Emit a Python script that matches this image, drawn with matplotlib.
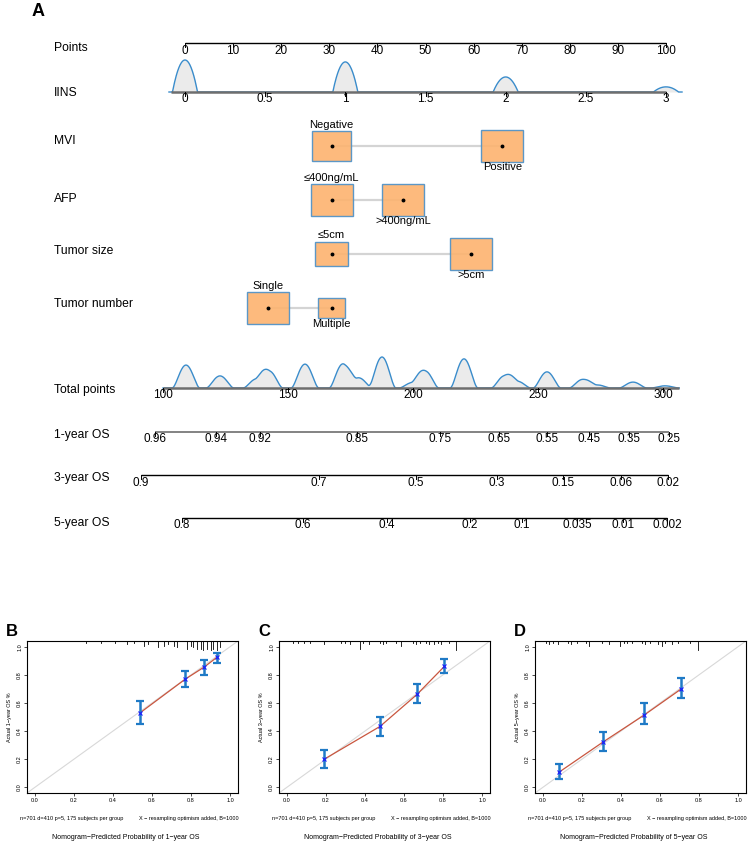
import numpy as np
import matplotlib.pyplot as plt
from matplotlib.patches import Rectangle

plt.rcParams['font.family'] = ['Liberation Sans', 'DejaVu Sans']

W, H = 755, 842
TOP = 620  # height of panel A in pixels

# ---------------- nomogram data ----------------
points_ticks = [0, 10, 20, 30, 40, 50, 60, 70, 80, 90, 100]

iins_ticks = [0, 0.5, 1, 1.5, 2, 2.5, 3]
iins_tick_labels = ['0', '0.5', '1', '1.5', '2', '2.5', '3']
iins_levels = [0, 1, 2, 3]
iins_density = [1.0, 0.94, 0.47, 0.16]

mvi_labels = ['Negative', 'Positive']
mvi_points = [30.5, 66.0]
mvi_freq = [0.46, 0.54]

afp_labels = ['≤400ng/mL', '>400ng/mL']
afp_points = [30.5, 45.4]
afp_freq = [0.5, 0.5]

size_labels = ['≤5cm', '>5cm']
size_points = [30.5, 59.5]
size_freq = [0.38, 0.62]

number_labels = ['Single', 'Multiple']
number_points = [17.2, 30.5]
number_freq = [0.70, 0.30]

total_ticks = [100, 150, 200, 250, 300]
total_modes = [109.2, 122.8, 137.6, 142.4, 156.8, 172.0, 178.2, 187.6,
               200.0, 204.8, 220.4, 236.8, 241.6, 253.6, 268.0, 273.6, 288.0, 300.8]
total_density = [0.74, 0.39, 0.30, 0.55, 0.77, 0.78, 0.33, 1.0,
                 0.18, 0.55, 0.94, 0.40, 0.22, 0.52, 0.28, 0.10, 0.19, 0.07]

os1_labels = ['0.96', '0.94', '0.92', '0.85', '0.75', '0.65', '0.55', '0.45', '0.35', '0.25']
os1_total = [96.8, 121.2, 138.8, 177.6, 210.8, 234.4, 253.6, 270.4, 286.4, 302.4]
os3_labels = ['0.9', '0.7', '0.5', '0.3', '0.15', '0.06', '0.02']
os3_total = [91.2, 162.4, 201.2, 233.6, 260.0, 283.2, 302.0]
os5_labels = ['0.8', '0.6', '0.4', '0.2', '0.1', '0.035', '0.01', '0.002']
os5_total = [107.6, 156.0, 189.6, 222.8, 243.6, 265.6, 284.0, 301.6]

# ---------------- calibration data ----------------
cal1_pred = [0.540, 0.770, 0.867, 0.932]
cal1_obs = [0.531, 0.769, 0.855, 0.924]
cal1_lo = [0.453, 0.711, 0.797, 0.885]
cal1_hi = [0.614, 0.827, 0.908, 0.958]
rug1_x = [0.26, 0.34, 0.41, 0.47, 0.51, 0.56, 0.58, 0.63, 0.66, 0.68, 0.71, 0.73,
          0.78, 0.80, 0.81, 0.83, 0.85, 0.86, 0.88, 0.90, 0.91, 0.93, 0.95]
rug1_n = [1, 1, 1, 2, 1, 3, 2, 4, 3, 2, 3, 4, 5, 3, 4, 5, 5, 6, 5, 6, 5, 6, 4]

cal3_pred = [0.190, 0.477, 0.666, 0.806]
cal3_obs = [0.199, 0.433, 0.660, 0.859]
cal3_lo = [0.136, 0.368, 0.597, 0.813]
cal3_hi = [0.265, 0.503, 0.733, 0.913]
rug3_x = [0.03, 0.056, 0.09, 0.12, 0.19, 0.275, 0.30, 0.325, 0.376, 0.39, 0.42, 0.477, 0.494,
          0.51, 0.56, 0.587, 0.646, 0.663, 0.68, 0.713, 0.73, 0.755, 0.772, 0.79, 0.83, 0.865]
rug3_n = [1, 1, 1, 1, 2, 1, 1, 2, 5, 1, 2, 1, 2, 1, 1, 3, 1, 2, 1, 1, 2, 2, 1, 2, 1, 6]

cal5_pred = [0.081, 0.309, 0.520, 0.709]
cal5_obs = [0.106, 0.323, 0.515, 0.700]
cal5_lo = [0.060, 0.261, 0.450, 0.635]
cal5_hi = [0.164, 0.393, 0.596, 0.776]
rug5_x = [0.017, 0.034, 0.05, 0.076, 0.127, 0.144, 0.177, 0.22, 0.236, 0.304, 0.338, 0.397,
          0.414, 0.431, 0.456, 0.507, 0.524, 0.549, 0.591, 0.608, 0.625, 0.659, 0.693, 0.752, 0.794]
rug5_n = [1, 2, 1, 2, 1, 2, 1, 1, 3, 1, 2, 3, 1, 1, 1, 1, 2, 1, 2, 3, 1, 2, 1, 1, 6]

BLUE = '#3a8ccb'
ORANGE = '#fdb36f'
GREY_FILL = '#ebebeb'
AXGREY = '#6e6e6e'

fig = plt.figure(figsize=(W / 100, H / 100), dpi=100)


def overlay(v0, px0, k):
    # axes over panel A whose x scale puts value v0 at pixel px0, k pixels per unit
    ax = fig.add_axes([0, 1 - TOP / H, 1, TOP / H])
    ax.set_xlim(v0 - px0 / k, v0 + (W - px0) / k)
    ax.set_ylim(TOP, 0)
    ax.axis('off')
    ax.patch.set_alpha(0)
    return ax


ax_p = overlay(0, 185, 481 / 100)      # points
ax_i = overlay(0, 185, 481 / 3)        # IINS
ax_t = overlay(100, 163, 2.5)          # total points


def axis_line(ax, y, ticks, labels, x0, x1, color, lw, fs=8.5):
    ax.plot([x0, x1], [y, y], color=color, lw=lw, solid_capstyle='butt', zorder=3)
    for t, l in zip(ticks, labels):
        ax.plot([t, t], [y, y + 4], color='black', lw=0.7, zorder=3)
        ax.text(t, y + 7.5, l, ha='center', va='center', fontsize=fs, zorder=4)


def density(ax, y, levels, heights, lo, hi, width, scale, power):
    x = np.linspace(lo, hi, 1200)
    d = np.zeros_like(x)
    for v, h in zip(levels, heights):
        d += h * np.clip(1 - ((x - v) / width) ** 2, 0, None) ** power
    ax.fill_between(x, y, y - d * scale, color=GREY_FILL, lw=0, zorder=1)
    ax.plot(x, y - d * scale, color=BLUE, lw=1.0, zorder=2)


def cat_row(ax, y, labels, pts, freq):
    fmax = max(freq)
    ax.plot([pts[0], pts[-1]], [y, y], color='#d4d4d4', lw=1.6, zorder=1)
    for i, (lab, p, f) in enumerate(zip(labels, pts, freq)):
        wpx = 42 * np.sqrt(f / fmax)
        hpx = wpx * 0.76
        wd = wpx / 4.81
        ax.add_patch(Rectangle((p - wd / 2, y - hpx / 2), wd, hpx, facecolor=ORANGE,
                               edgecolor='#4a90c8', lw=1.0, alpha=0.9, zorder=2))
        ax.plot(p, y, 'o', color='black', ms=1.8, zorder=3)
        if i == 0:
            ax.text(p, y - hpx / 2 - 6.5, lab, ha='center', va='center', fontsize=8)
        else:
            ax.text(p, y + hpx / 2 + 5.5, lab, ha='center', va='center', fontsize=8)


# Points
axis_line(ax_p, 43, points_ticks, [str(t) for t in points_ticks], 0, 100, 'black', 1.0)
# IINS
density(ax_i, 92, iins_levels, iins_density, -0.1, 3.1, 0.078, 32, 1)
axis_line(ax_i, 92, iins_ticks, iins_tick_labels, -0.09, 3.0, AXGREY, 1.8)
# categorical rows
cat_row(ax_p, 146, mvi_labels, mvi_points, mvi_freq)
cat_row(ax_p, 200, afp_labels, afp_points, afp_freq)
cat_row(ax_p, 254, size_labels, size_points, size_freq)
cat_row(ax_p, 308, number_labels, number_points, number_freq)
# Total points
density(ax_t, 388, total_modes, total_density, 100, 306.5, 5.6, 31, 2)
axis_line(ax_t, 388, total_ticks, [str(t) for t in total_ticks], 100, 306.5, AXGREY, 1.8)
# survival scales
axis_line(ax_t, 432, os1_total, os1_labels, os1_total[0], os1_total[-1], AXGREY, 1.2)
axis_line(ax_t, 475, os3_total, os3_labels, os3_total[0], os3_total[-1], 'black', 1.0)
axis_line(ax_t, 518, os5_total, os5_labels, os5_total[0], os5_total[-1], 'black', 1.0)

row_names = ['Points', 'IINS', 'MVI', 'AFP', 'Tumor size', 'Tumor number',
             'Total points', '1-year OS', '3-year OS', '5-year OS']
row_y = [48, 93, 141, 199, 251, 304, 390, 435, 478, 523]
for name, y in zip(row_names, row_y):
    fig.text(54 / W, 1 - y / H, name, ha='left', va='center', fontsize=8.7)

fig.text(38 / W, 1 - 12 / H, 'A', ha='center', va='center', fontsize=13, fontweight='bold')


# ---------------- calibration panels ----------------
def cal_panel(left, letter, years, pred, obs, lo, hi, rug_x, rug_n):
    ax = fig.add_axes([left / W, (H - 793) / H, 211 / W, 152 / H])
    ax.set_xlim(-0.04, 1.04)
    ax.set_ylim(-0.04, 1.04)
    ax.plot([-0.04, 1.04], [-0.04, 1.04], color='#d8d8d8', lw=0.8, zorder=1)
    ax.plot(pred, obs, color='#c9563f', lw=0.9, zorder=2)
    yerr = [np.array(obs) - np.array(lo), np.array(hi) - np.array(obs)]
    ax.errorbar(pred, obs, yerr=yerr, fmt='none', ecolor='#1f7ac6', elinewidth=1.8,
                capsize=2.6, capthick=1.6, zorder=3)
    ax.plot(pred, obs, 'x', color='#1a1aff', ms=2.6, mew=0.8, zorder=4)
    unit = 1.08 / 152
    for x, n in zip(rug_x, rug_n):
        ax.plot([x, x], [1.04, 1.04 - n * 1.5 * unit], color='black', lw=0.6, zorder=2)
    ticks = [0, 0.2, 0.4, 0.6, 0.8, 1.0]
    ax.set_xticks(ticks)
    ax.set_yticks(ticks)
    ax.set_xticklabels(['%.1f' % t for t in ticks])
    ax.set_yticklabels(['%.1f' % t for t in ticks], rotation=90, va='center')
    ax.tick_params(labelsize=4, length=2, width=0.5, pad=1.5)
    for s in ax.spines.values():
        s.set_linewidth(0.8)
    ax.text(-0.085, 0.5, 'Actual %d−year OS %%' % years, transform=ax.transAxes,
            rotation=90, ha='center', va='center', fontsize=4)
    ax.text(-0.033, -0.171, 'n=701 d=410 p=5, 175 subjects per group', transform=ax.transAxes,
            ha='left', va='center', fontsize=4)
    ax.text(1.005, -0.171, 'X − resampling optimism added, B=1000', transform=ax.transAxes,
            ha='right', va='center', fontsize=4)
    ax.text(0.47, -0.29, 'Nomogram−Predicted Probability of %d−year OS' % years,
            transform=ax.transAxes, ha='center', va='center', fontsize=5)
    fig.text((left - 15) / W, 1 - 632 / H, letter, ha='center', va='center',
             fontsize=12, fontweight='bold')


cal_panel(27, 'B', 1, cal1_pred, cal1_obs, cal1_lo, cal1_hi, rug1_x, rug1_n)
cal_panel(279, 'C', 3, cal3_pred, cal3_obs, cal3_lo, cal3_hi, rug3_x, rug3_n)
cal_panel(535, 'D', 5, cal5_pred, cal5_obs, cal5_lo, cal5_hi, rug5_x, rug5_n)

fig.savefig('out.png', dpi=100)
